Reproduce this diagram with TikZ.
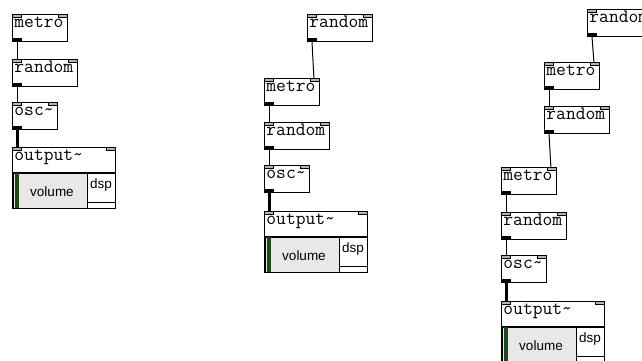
\documentclass[tikz,border=0pt]{standalone}
\usepackage{fontspec}
\usepackage{tikz}
\usepackage{xcolor}
\usetikzlibrary{positioning}
\newfontfamily\guifont{Liberation Sans}
\newcommand{\pdfont}{\ttfamily\fontsize{19}{19}\selectfont}
\definecolor{slidergray}{HTML}{E8E8E8}
\definecolor{slidergreen}{HTML}{1B4A1B}
\definecolor{ioletgray}{HTML}{B4B4B4}
\tikzset{pdbox/.style={draw, line width=0.9pt, anchor=north west,
inner xsep=2pt, inner ysep=0pt, text height=13pt, text depth=14pt,
text width=#1pt, align=left, font=\pdfont},
inlets/.code={\draw[fill=ioletgray, line width=0.5pt] (path picture bounding box.north west) rectangle ++(9pt,-3pt);
\draw[fill=ioletgray, line width=0.5pt] (path picture bounding box.north east) rectangle ++(-9pt,-3pt);},
pdobj/.style={pdbox=#1, path picture={\tikzset{inlets}
\fill (path picture bounding box.south west) rectangle ++(10pt,3pt);}},
pdout/.style={pdbox=99, text depth=12pt, path picture={\tikzset{inlets}}},
guilabel/.style={font=\guifont\fontsize{13.5}{13.5}\selectfont, inner sep=0pt, anchor=base},
ctl/.style={line width=1pt},
sig/.style={line width=3pt}}

\newcommand{\gopanel}[1]{%
\draw[line width=0.9pt] (#1.south west) rectangle ++(103pt,-36pt);
\draw[fill=slidergray, line width=0.6pt] ([xshift=1pt]#1.south west) rectangle ++(74pt,-35pt);
\fill[slidergreen] ([xshift=2.5pt]#1.south west) rectangle ++(4pt,-35pt);
\node[guilabel] (#1-vol) at ([xshift=40pt,yshift=-24pt]#1.south west) {volume};
\draw[line width=0.6pt] ([xshift=75pt]#1.south west) rectangle ++(28pt,-29pt);
\node[guilabel] (#1-dsp) at ([xshift=89pt,yshift=-16pt]#1.south west) {dsp};}

\begin{document}
\begin{tikzpicture}[x=1pt, y=-1pt]
\fill[white] (0,0) rectangle (642,360);
\useasboundingbox (0,0) rectangle (642,360);
\clip (0,0) rectangle (642,360);

\node[pdobj=51] (metroA) at (12,14) {metro};
\node[pdobj=61] (randA) at (12,59) {random};
\node[pdobj=41] (oscA) at (12,102) {osc\textasciitilde};
\node[pdout] (outA) at (12,147) {output\textasciitilde};
\gopanel{outA}

\node[pdobj=61] (randB0) at (307,14) {random};
\node[pdobj=51] (metroB) at (264,78) {metro};
\node[pdobj=61] (randB) at (264,122) {random};
\node[pdobj=41] (oscB) at (264,165) {osc\textasciitilde};
\node[pdout] (outB) at (264,211) {output\textasciitilde};
\gopanel{outB}

\node[pdobj=61] (randC0) at (587,9) {random};
\node[pdobj=51] (metroC1) at (544,62) {metro};
\node[pdobj=61] (randC1) at (544,106) {random};
\node[pdobj=51] (metroC) at (501,167) {metro};
\node[pdobj=61] (randC) at (501,212) {random};
\node[pdobj=41] (oscC) at (501,255) {osc\textasciitilde};
\node[pdout] (outC) at (501,301) {output\textasciitilde};
\gopanel{outC}

\foreach \a/\b in {metroA/randA, randA/oscA, metroB/randB, randB/oscB,
metroC1/randC1, metroC/randC, randC/oscC}
\draw[ctl] ([xshift=5pt]\a.south west) -- ([xshift=5pt]\b.north west);
\foreach \a/\b in {randB0/metroB, randC0/metroC1, randC1/metroC}
\draw[ctl] ([xshift=5pt]\a.south west) -- ([xshift=-6pt]\b.north east);
\foreach \a/\b in {oscA/outA, oscB/outB, oscC/outC}
\draw[sig] ([xshift=5.5pt]\a.south west) -- ([xshift=5.5pt]\b.north west);
\end{tikzpicture}
\end{document}
